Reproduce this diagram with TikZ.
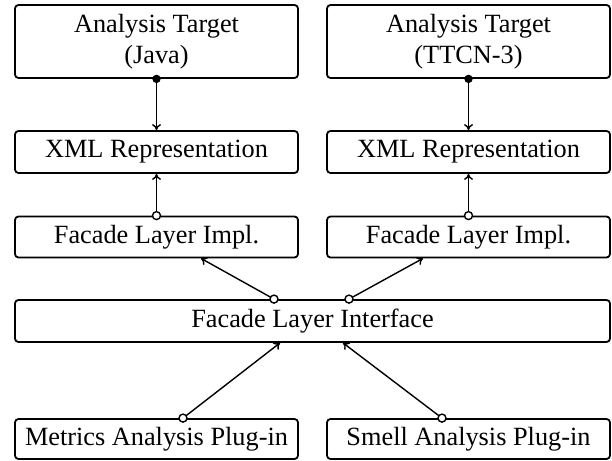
\documentclass[tikz,border=0pt]{standalone}
\usepackage{fontspec}
\setmainfont{Liberation Serif}
\usetikzlibrary{arrows.meta,calc}
\begin{document}
\begin{tikzpicture}[x=1bp,y=-1bp,
  box/.style={draw,line width=1.8bp,rounded corners=3.5bp,inner sep=0pt,
    minimum width=283bp,align=center,
    font=\fontsize{26.3bp}{31bp}\selectfont},
  conn/.style={line width=1.4bp,-{To[length=6bp,width=9bp]}},
  dot/.style={fill=black,line width=1bp},
  odot/.style={draw=black,fill=white,line width=1.4bp}]
\useasboundingbox (0,0) rectangle (612,461);
\node[box,minimum height=73bp] (tj) at (156.5,41.5) {Analysis Target\\(Java)};
\node[box,minimum height=73bp] (tt) at (468.5,41.5) {Analysis Target\\(TTCN-3)};
\node[box,minimum height=42bp] (xj) at (156.5,152) {XML Representation};
\node[box,minimum height=42bp] (xt) at (468.5,152) {XML Representation};
\node[box,minimum height=41bp] (fj) at (156.5,237) {Facade Layer Impl.};
\node[box,minimum height=41bp] (ft) at (468.5,237) {Facade Layer Impl.};
\node[box,minimum height=42bp,minimum width=595bp] (fi) at (312.5,321) {Facade Layer Interface};
\node[box,minimum height=40bp] (mp) at (156.5,439) {Metrics Analysis Plug-in};
\node[box,minimum height=40bp] (sp) at (468.5,439) {Smell Analysis Plug-in};
% connectors
\draw[conn] (tj.south) -- (xj.north);
\fill[dot] (tj.south) circle (4.2bp);
\draw[conn] (tt.south) -- (xt.north);
\fill[dot] (tt.south) circle (4.2bp);
\draw[conn] (fj.north) -- (xj.south);
\draw[odot] (fj.north) circle (4bp);
\draw[conn] (ft.north) -- (xt.south);
\draw[odot] (ft.north) circle (4bp);
\coordinate (fiA) at ([xshift=-38.5bp]fi.north);
\coordinate (fiB) at ([xshift=36.5bp]fi.north);
\coordinate (fjS) at ([xshift=44.5bp]fj.south);
\coordinate (ftS) at ([xshift=-45.5bp]ft.south);
\draw[conn] (fiA) -- (fjS);
\draw[odot] (fiA) circle (4bp);
\draw[conn] (fiB) -- (ftS);
\draw[odot] (fiB) circle (4bp);
\coordinate (mpN) at ([xshift=26.5bp]mp.north);
\coordinate (spN) at ([xshift=-26.5bp]sp.north);
\coordinate (fiC) at ([xshift=-32.5bp]fi.south);
\coordinate (fiD) at ([xshift=30.5bp]fi.south);
\draw[conn] (mpN) -- (fiC);
\draw[odot] (mpN) circle (4bp);
\draw[conn] (spN) -- (fiD);
\draw[odot] (spN) circle (4bp);
\end{tikzpicture}
\end{document}
